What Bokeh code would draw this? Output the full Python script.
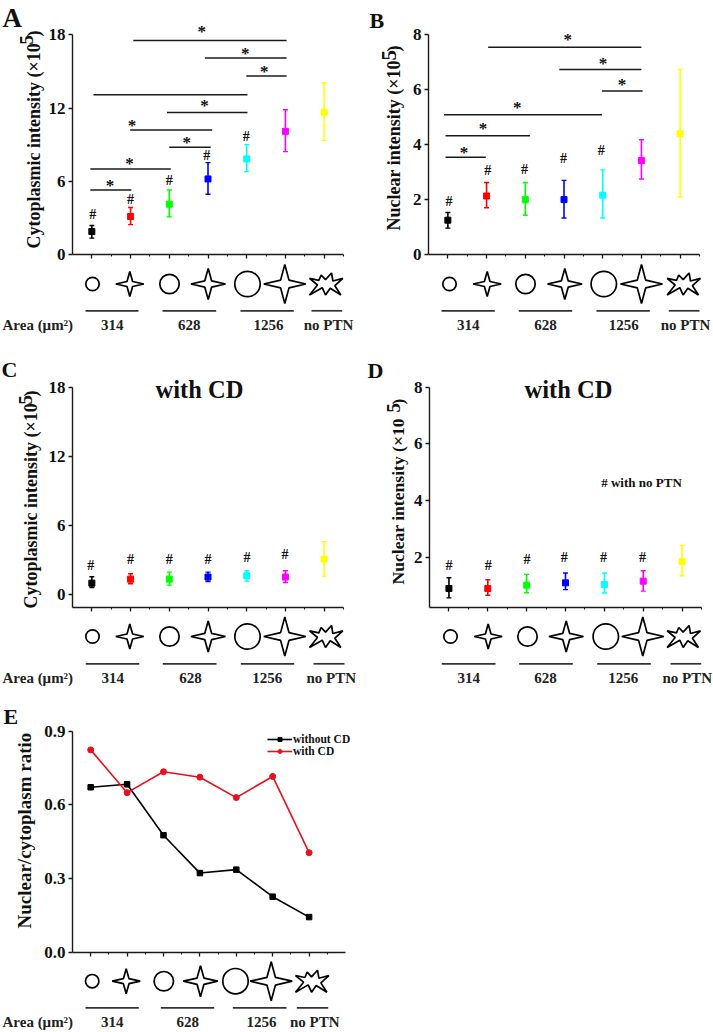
from bokeh.plotting import figure
from bokeh.models import Range1d, FixedTicker, Legend, LegendItem, NumeralTickFormatter
from bokeh.core.properties import value
from bokeh.embed import file_html
from bokeh.resources import INLINE

# ---------- data ----------
colors = ["#000000", "#ff0000", "#00ff00", "#0000ff", "#00ffff", "#ff00ff", "#ffff00"]
cats = [1, 2, 3, 4, 5, 6, 7]
area_labels = ["314", "628", "1256", "no PTN"]

A_mean = [1.88, 3.11, 4.12, 6.19, 7.83, 10.09, 11.65]
A_hi = [2.37, 3.85, 5.29, 7.53, 9.00, 11.86, 14.05]
A_lo = [1.34, 2.45, 3.08, 4.94, 6.79, 8.43, 9.35]
A_hash_x = [1.02, 2.0, 3.0, 3.97, 4.99]
A_hash_y = [3.3, 4.53, 6.08, 8.13, 9.68]
A_bar_x0 = [2.07, 3.92, 4.99, 1.04, 2.94, 1.99, 3.0, 0.96, 0.96]
A_bar_x1 = [6.03, 6.03, 6.03, 5.02, 5.02, 4.11, 4.07, 3.04, 2.02]
A_bar_y = [17.53, 16.09, 14.62, 13.09, 11.64, 10.2, 8.78, 7.0, 5.29]
A_star_x = [3.84, 4.96, 5.45, 3.91, 2.04, 3.45, 1.97, 1.47]
A_star_y = [18.43, 16.63, 15.16, 12.35, 10.77, 9.35, 7.58, 5.8]

B_mean = [1.25, 2.13, 2.00, 2.00, 2.16, 3.42, 4.40]
B_hi = [1.53, 2.62, 2.62, 2.70, 3.08, 4.18, 6.74]
B_lo = [0.96, 1.70, 1.43, 1.33, 1.33, 2.75, 2.10]
B_hash_x = [1.03, 2.03, 2.98, 3.99, 4.96]
B_hash_y = [1.93, 3.07, 3.10, 3.48, 3.79]
B_bar_x0 = [2.04, 3.88, 4.98, 0.9, 0.94, 0.94]
B_bar_x1 = [6.0, 6.0, 6.03, 4.98, 3.12, 1.98]
B_bar_y = [7.55, 6.74, 5.95, 5.09, 4.32, 3.54]
B_star_x = [4.1, 5.01, 5.5, 2.79, 1.91, 1.42]
B_star_y = [7.89, 7.04, 6.28, 5.42, 4.67, 3.78]

C_mean = [1.01, 1.36, 1.36, 1.54, 1.65, 1.54, 3.10]
C_hi = [1.57, 1.83, 1.97, 1.97, 2.09, 2.09, 4.61]
C_lo = [0.64, 0.96, 0.84, 1.16, 1.19, 1.07, 1.62]
C_hash_x = [0.97, 2.0, 3.0, 4.0, 5.01, 5.99]
C_hash_y = [2.52, 3.04, 3.04, 3.04, 3.25, 3.48]

D_mean = [0.89, 0.89, 1.01, 1.09, 1.03, 1.15, 1.84]
D_hi = [1.27, 1.20, 1.39, 1.44, 1.44, 1.52, 2.41]
D_lo = [0.56, 0.65, 0.74, 0.85, 0.73, 0.80, 1.34]
D_hash_x = [1.0, 2.01, 3.01, 3.97, 4.98, 5.98]
D_hash_y = [1.72, 1.72, 1.91, 1.97, 1.97, 2.0]

E_without = [0.672, 0.684, 0.477, 0.323, 0.337, 0.227, 0.144]
E_with = [0.824, 0.650, 0.735, 0.713, 0.630, 0.716, 0.406]

# ---------- style / layout ----------
SERIF = "Liberation Serif"
AX = "#1a1a1a"


def main_panel(fx, fy, L, R, B, yticks, ytop_tick, ybase, ytop_px, xend=7.5, xlim=7.5, width=355):
    ppu = (B - ytop_px) / (ytop_tick - ybase)
    yend = ytop_tick + (ytop_px - fy) / ppu
    p = figure(width=width, height=B + 14 - fy, x_range=Range1d(0.5, xend), y_range=Range1d(ybase, yend),
               output_backend="svg", toolbar_location=None,
               min_border_left=L - fx, min_border_right=fx + width - R,
               min_border_top=0, min_border_bottom=14,
               outline_line_color=None, background_fill_color=None, border_fill_color=None,
               styles={"position": "absolute", "left": f"{fx}px", "top": f"{fy}px"})
    p.grid.visible = False
    xa = p.xaxis[0]
    xa.ticker = FixedTicker(ticks=cats, minor_ticks=[c + 0.5 for c in cats])
    xa.bounds = (0.5, xlim)
    xa.major_label_overrides = {c: "" for c in cats}
    xa.major_label_standoff = 0
    xa.major_tick_in = 0
    xa.major_tick_out = 4
    xa.minor_tick_in = 0
    xa.minor_tick_out = 2
    ya = p.yaxis[0]
    ya.ticker = FixedTicker(ticks=yticks)
    ya.bounds = (ybase, ytop_tick)
    ya.major_tick_in = 0
    ya.major_tick_out = 4
    ya.minor_tick_line_color = None
    ya.major_label_standoff = 3
    ya.major_label_text_font = SERIF
    ya.major_label_text_font_style = "bold"
    ya.major_label_text_font_size = "17px"
    ya.major_label_text_color = "#111111"
    for a in (xa, ya):
        a.axis_line_width = 1.4
        a.major_tick_line_width = 1.3
        a.minor_tick_line_width = 1.1
        a.axis_line_color = AX
        a.major_tick_line_color = AX
    xa.minor_tick_line_color = AX
    return p


def error_points(p, mean, lo, hi):
    p.segment(cats, lo, cats, hi, line_color=colors, line_width=1.6)
    p.scatter(cats, lo, marker="dash", size=5, line_color=colors, line_width=1.4)
    p.scatter(cats, hi, marker="dash", size=5, line_color=colors, line_width=1.4)
    p.scatter(cats, mean, marker="square", size=6, color=colors)


def hashes(p, x, y):
    p.text(x, y, text=["#"] * len(x), text_font=value(SERIF), text_font_style="bold",
           text_font_size="14px", text_align="center", text_baseline="middle", text_color="#111111")


def sig(p, x0, x1, y, sx, sy):
    p.segment(x0, y, x1, y, line_color="#1a1a1a", line_width=1.5)
    p.text(sx, sy, text=["*"] * len(sx), text_font=value(SERIF), text_font_style="bold",
           text_font_size="17px", text_align="center", text_baseline="middle",
           y_offset=2, text_color="#111111")


# full-page sheet for texts and pictograms that sit outside the plot frames
deco = figure(width=713, height=1032, x_range=Range1d(0, 713), y_range=Range1d(1032, 0),
              x_axis_location=None, y_axis_location=None, output_backend="svg", toolbar_location=None,
              min_border=0, outline_line_color=None, background_fill_color=None, border_fill_color=None,
              styles={"position": "absolute", "left": "0px", "top": "0px"})
deco.grid.visible = False


def tx(x, y, s, size, angle=0, align="left", baseline="middle", color="#111111"):
    deco.text([x], [y], text=[s], text_font=value(SERIF), text_font_style="bold",
              text_font_size=f"{size}px", angle=angle, angle_units="deg",
              text_align=align, text_baseline=baseline, text_color=color)


BURST = [(252, 68), (280, 74), (287, 58), (300, 72), (318, 52), (322, 76), (352, 68), (328, 90),
         (346, 118), (314, 98), (300, 118), (290, 96), (252, 118), (276, 88)]


def star_outline(cx, cy, rx, ry, k=0.2):
    xs = [cx, cx + k * rx, cx + rx, cx + k * rx, cx, cx - k * rx, cx - rx, cx - k * rx]
    ys = [cy - ry, cy - k * ry, cy, cy + k * ry, cy + ry, cy + k * ry, cy, cy - k * ry]
    return xs, ys


def icon_strip(icon_y, icon_x, sep_y, seps, lab_y, lab_x, area):
    radii = [6.7, 9.7, 12.7]
    stars = [(14, 12.5), (17.3, 15.5), (21, 19.5)]
    deco.scatter(icon_x[0::2][:3], [icon_y] * 3, marker="circle", size=[2 * r for r in radii],
                 fill_color=None, line_color="#000000", line_width=1.7)
    for cx, (rx, ry) in zip(icon_x[1::2], stars):
        xs, ys = star_outline(cx, icon_y, rx, ry)
        deco.patch(xs, ys, fill_color=None, line_color="#000000", line_width=1.7)
    bx = icon_x[6]
    deco.patch([bx + (a - 302) / 3 for a, _ in BURST], [icon_y + (b - 85) / 3 for _, b in BURST],
               fill_color=None, line_color="#000000", line_width=1.7)
    deco.segment([s[0] for s in seps], [sep_y] * 4, [s[1] for s in seps], [sep_y] * 4,
                 line_color="#333333", line_width=1.7)
    for x, s in zip(lab_x, area_labels):
        tx(x, lab_y, s, 15, align="center", color="#222222")
    if area:
        tx(2, lab_y, "Area (μm²)", 15, color="#222222")


def y_title(x, ystart, main, x5, y5, yclose, size=18, size5=19):
    tx(x, ystart, main, size, angle=90)
    tx(x5, y5, "5", size5, angle=90)
    tx(x, yclose, ")", size, angle=90)


# ---------- panel A ----------
pa = main_panel(0, 0, 72, 343, 254, [0, 6, 12, 18], 18, 0, 34.3)
sig(pa, A_bar_x0, A_bar_x1, A_bar_y, A_star_x, A_star_y)
error_points(pa, A_mean, A_lo, A_hi)
hashes(pa, A_hash_x, A_hash_y)
tx(2, 17.5, "A", 27)
y_title(33, 248, "Cytoplasmic intensity (×10", 26, 44, 36)
icon_strip(283.5, [92, 129.3, 169, 207.7, 247, 284.3, 325.7], 310.3,
           [(85, 138), (162, 215.7), (240, 293.3), (311, 341.7)], 324, [111.7, 188.7, 268, 328], True)

# ---------- panel B ----------
pb = main_panel(355, 0, 428, 699, 254, [0, 2, 4, 6, 8], 8, 0, 34.3, width=358)
sig(pb, B_bar_x0, B_bar_x1, B_bar_y, B_star_x, B_star_y)
error_points(pb, B_mean, B_lo, B_hi)
hashes(pb, B_hash_x, B_hash_y)
tx(369, 19.5, "B", 22)
y_title(393, 230, "Nuclear intensity (×10", 388, 60, 51, size5=21)
icon_strip(283.5, [449, 486.7, 525, 564.3, 603.3, 641, 683.3], 310.3,
           [(441, 494.3), (518.3, 571.7), (596, 649.3), (668.3, 699)], 324, [467.7, 545, 623.3, 685], False)

# ---------- panel C ----------
pc = main_panel(0, 350, 72, 343, 607, [0, 6, 12, 18], 18, -1.1, 386.7)
error_points(pc, C_mean, C_lo, C_hi)
hashes(pc, C_hash_x, C_hash_y)
tx(1, 369, "C", 22)
tx(199, 389, "with CD", 24.5, align="center")
y_title(30, 608, "Cytoplasmic intensity (×10", 25, 404, 396)
icon_strip(636, [92, 129.3, 169, 207.7, 247, 284.3, 325.7], 663.3,
           [(85.3, 138.7), (162.3, 216), (240.3, 293.7), (313, 344)], 677.7, [112.3, 190, 266.7, 330.7], True)

# ---------- panel D ----------
pd = main_panel(355, 350, 429, 701, 607, [2, 4, 6, 8], 8, 0.22, 386.7, width=358)
error_points(pd, D_mean, D_lo, D_hi)
hashes(pd, D_hash_x, D_hash_y)
tx(367, 369.5, "D", 22)
tx(568, 389, "with CD", 24.5, align="center")
tx(641, 482, "# with no PTN", 13, align="center")
y_title(397, 584, "Nuclear intensity (×10", 393, 412, 404, size=17.6)
icon_strip(636, [450, 487.7, 527, 565.7, 605.3, 642.3, 683.3], 663.3,
           [(441.3, 495), (518.7, 572.3), (596.7, 650.3), (670, 700.7)], 677.7, [468.3, 545, 622.7, 686.7], False)

# ---------- panel E ----------
pe = main_panel(0, 700, 72, 365, 952, [0, 0.3, 0.6, 0.9], 0.9, 0, 730.7, xend=8.55, xlim=8.0, width=400)
pe.yaxis[0].formatter = NumeralTickFormatter(format="0.0")
l1 = pe.line(cats, E_without, line_color="#000000", line_width=1.6)
s1 = pe.scatter(cats, E_without, marker="square", size=5.5, color="#000000")
l2 = pe.line(cats, E_with, line_color="#e8101c", line_width=1.6)
s2 = pe.scatter(cats, E_with, marker="circle", size=6, color="#e8101c")
legend = Legend(items=[LegendItem(label="without CD", renderers=[l1, s1]),
                       LegendItem(label="with CD", renderers=[l2, s2])],
                location=(195, 195), orientation="vertical", border_line_color=None,
                background_fill_alpha=0, padding=0, margin=0, spacing=-1, glyph_width=25, glyph_height=10,
                label_standoff=1, label_text_font=SERIF, label_text_font_style="bold",
                label_text_font_size="11.5px", label_height=10, label_text_line_height=1.0,
                label_text_color="#111111")
pe.add_layout(legend, "center")
tx(3, 715.7, "E", 22)
tx(24, 928, "Nuclear/cytoplasm ratio", 19, angle=90)
icon_strip(980.7, [91.7, 125.7, 163.3, 200, 235, 270.7, 311.7], 1007.3,
           [(85, 138.3), (160.3, 213.7), (232.3, 286), (296.3, 327.7)], 1021.7, [111.7, 187.3, 261, 314.3], True)

open("out.html", "w").write(file_html([deco, pa, pb, pc, pd, pe], INLINE))
